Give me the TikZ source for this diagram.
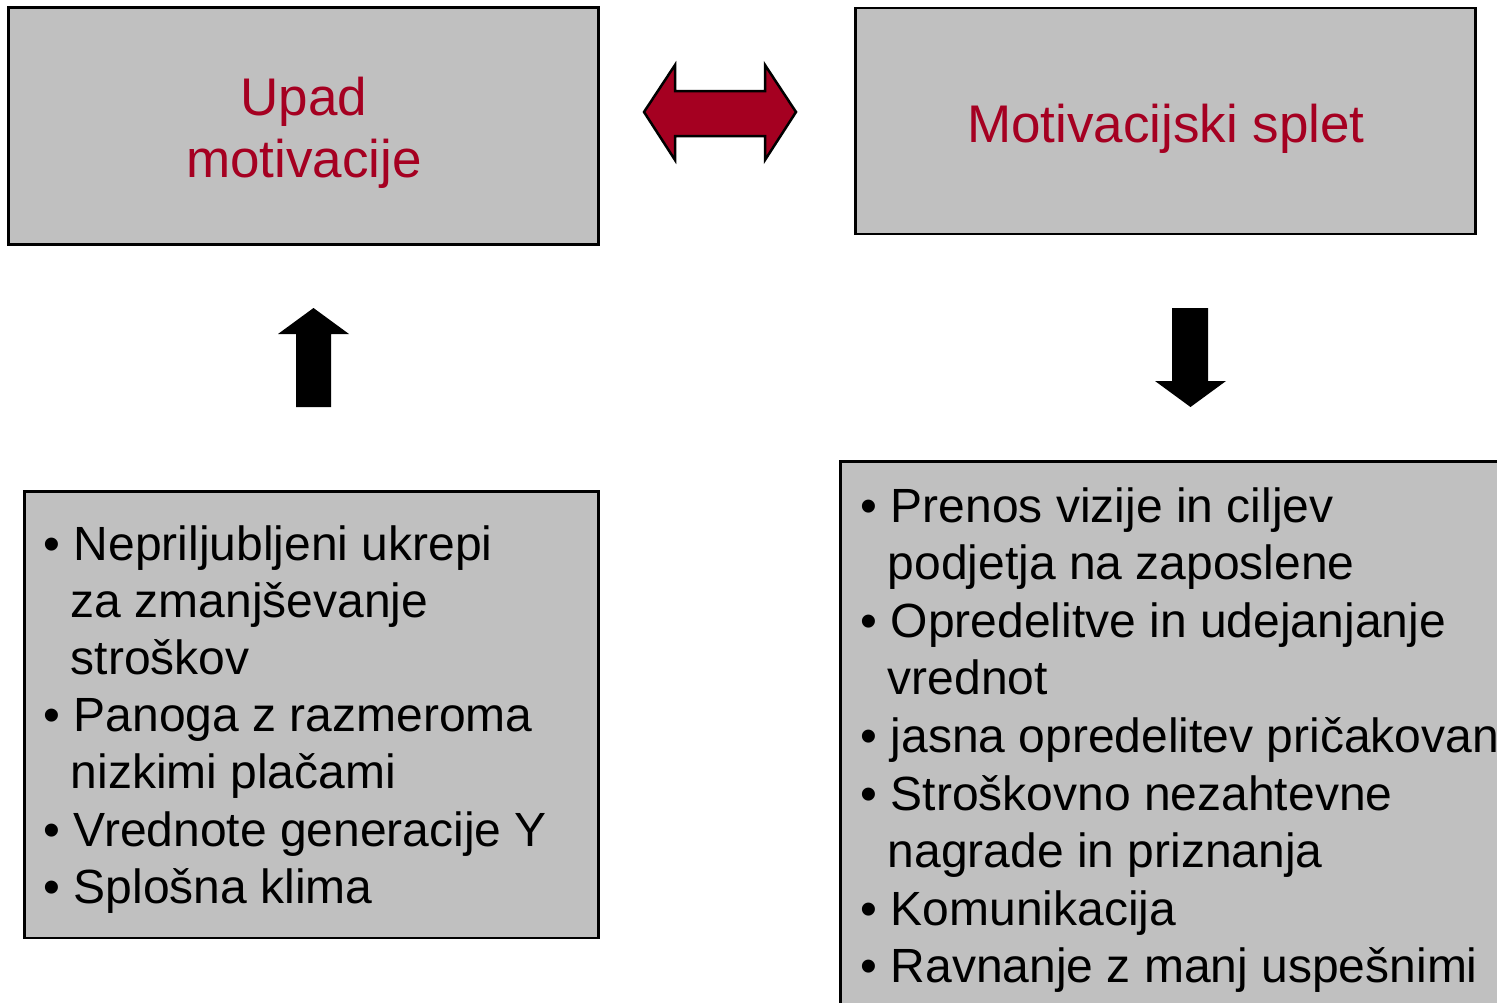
\documentclass[tikz,border=0pt]{standalone}
\usepackage{fontspec}
\setmainfont{Liberation Sans}
\definecolor{boxgray}{HTML}{C0C0C0}
\definecolor{titlered}{HTML}{A50021}
\tikzset{
  box/.style={draw=black, line width=2.7pt, fill=boxgray},
  titletext/.style={text=titlered, font=\fontsize{53}{64}\selectfont, inner sep=0pt, anchor=base},
  item/.style={text=black, font=\fontsize{48}{57}\selectfont, inner sep=0pt, anchor=base west},
  bigarrow/.style={fill=black, draw=none},
  dblarrow/.style={fill=titlered, draw=black, line width=2.5pt, line join=miter},
}
\begin{document}
\begin{tikzpicture}[x=1pt,y=-1pt]
\useasboundingbox (0,0) rectangle (1497,1002);
\clip (0,0) rectangle (1497,1002);
% boxes
\draw[box] (8.5,7.5) rectangle (598.5,244.5);
\draw[box] (855.5,8) rectangle (1475.5,234);
\draw[box] (24.5,491.5) rectangle (598.5,938);
\draw[box] (840.5,461.5) rectangle (1520,1030);
% titles
\node[titletext] (t1a) at (304,115) {Upad};
\node[titletext] (t1b) at (304,177) {motivacije};
\node[titletext] (t2) at (1166,142) {Motivacijski splet};
% double arrow
\filldraw[dblarrow] (644,112) -- (675,65) -- (675,91) -- (765,91) -- (765,65) -- (796,112)
  -- (765,160) -- (765,136) -- (675,136) -- (675,160) -- cycle;
% up arrow
\fill[bigarrow] (313.5,308) -- (349,334) -- (331,334) -- (331,407) -- (296,407) -- (296,334) -- (278,334) -- cycle;
% down arrow
\fill[bigarrow] (1172,308) -- (1208,308) -- (1208,381) -- (1226,381) -- (1190.5,407) -- (1155,381) -- (1172,381) -- cycle;
% left list
\node[item] (l1) at (43.5,560) {\textbullet\ Nepriljubljeni ukrepi};
\node[item] (l2) at (70.5,617.2) {za zmanjševanje};
\node[item] (l3) at (70.5,674.4) {stroškov};
\node[item] (l4) at (43.5,731.6) {\textbullet\ Panoga z razmeroma};
\node[item] (l5) at (70.5,788.8) {nizkimi plačami};
\node[item] (l6) at (43.5,846) {\textbullet\ Vrednote generacije Y};
\node[item] (l7) at (43.5,903.2) {\textbullet\ Splošna klima};
% right list
\node[item] (r1) at (860.5,522) {\textbullet\ Prenos vizije in ciljev};
\node[item] (r2) at (887.5,579.6) {podjetja na zaposlene};
\node[item] (r3) at (860.5,637.2) {\textbullet\ Opredelitve in udejanjanje};
\node[item] (r4) at (887.5,694.8) {vrednot};
\node[item] (r5) at (860.5,752.4) {\textbullet\ jasna opredelitev pričakovanj};
\node[item] (r6) at (860.5,810) {\textbullet\ Stroškovno nezahtevne};
\node[item] (r7) at (887.5,867.6) {nagrade in priznanja};
\node[item] (r8) at (860.5,925.2) {\textbullet\ Komunikacija};
\node[item] (r9) at (860.5,982.8) {\textbullet\ Ravnanje z manj uspešnimi};
\end{tikzpicture}
\end{document}
